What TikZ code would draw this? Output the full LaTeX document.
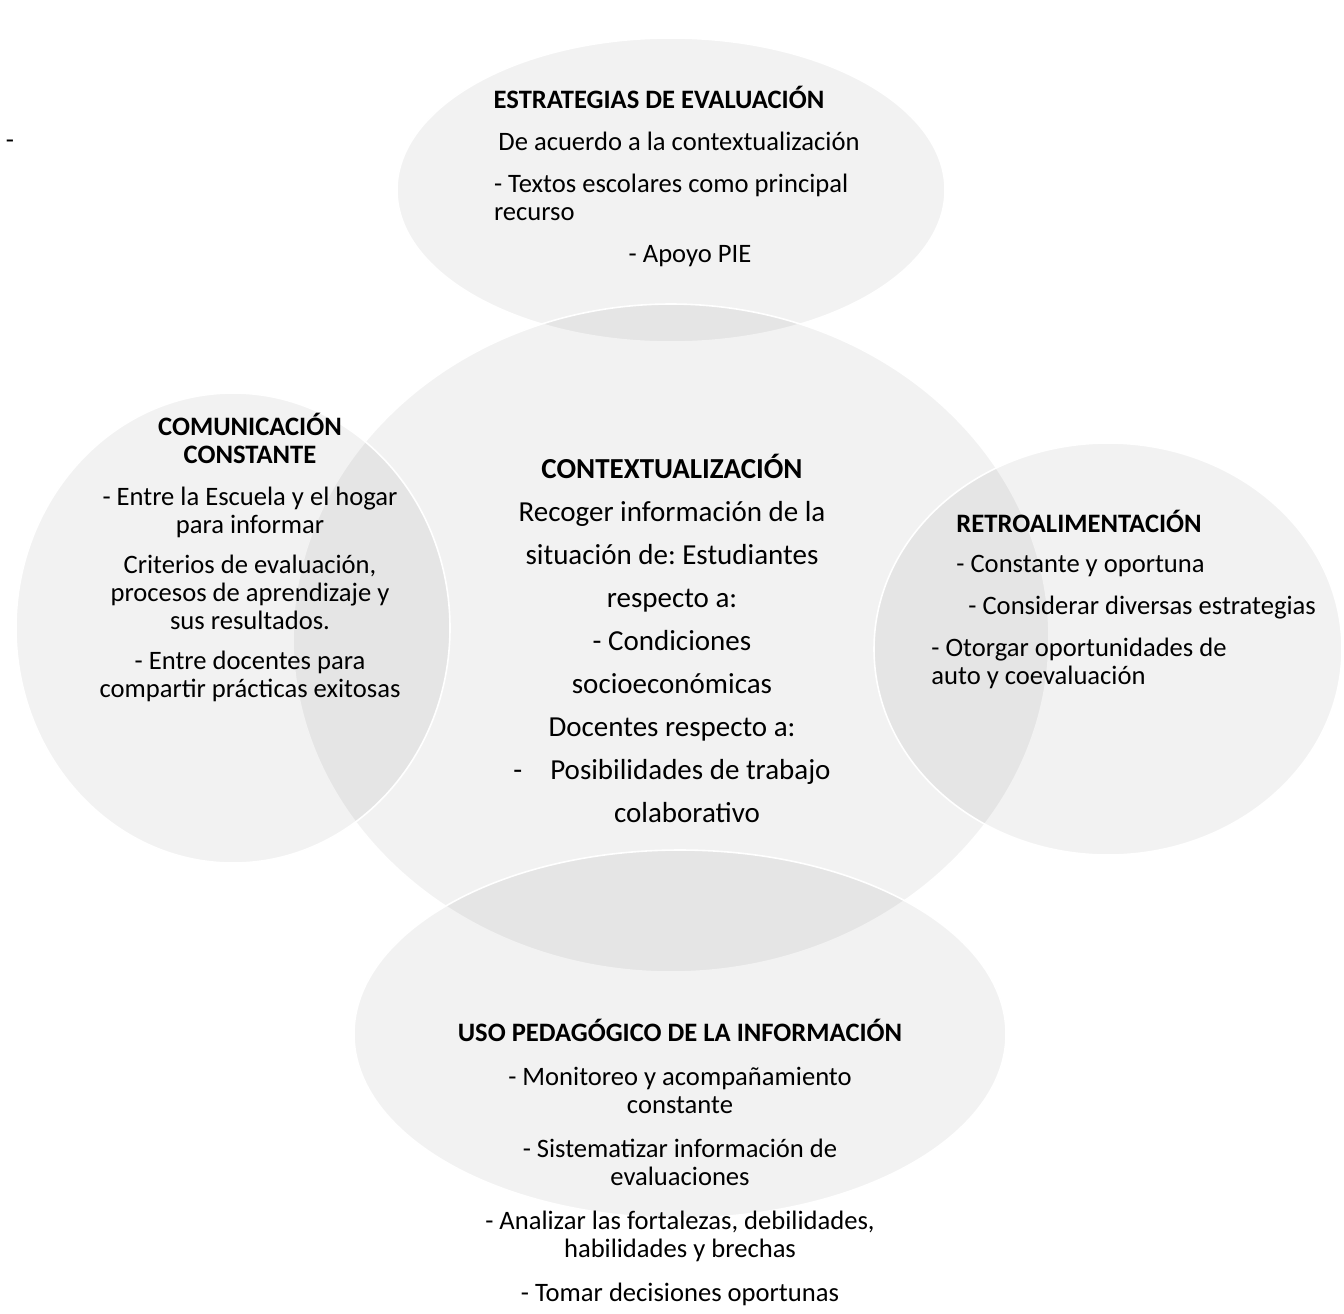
\documentclass[tikz,border=0pt]{standalone}
\usepackage{fontspec}
\setmainfont{Carlito}
\frenchspacing
\usetikzlibrary{positioning}
\tikzset{
  venn/.style={
	x=0.5pt, y=-0.5pt, % one unit is one pixel of the sketch, y goes down
	blob/.style={fill=black, fill opacity=0.05, draw=white, line width=0.8pt}, % the grey discs, darker where they overlap
	txt/.style={font=\fontsize{13.3}{14}\selectfont, align=center, inner sep=0pt}, % the text inside a disc
	big/.style={font=\fontsize{14.5}{21.5}\selectfont}, % the larger text of the middle disc
  }
}

\begin{document}
\begin{tikzpicture}[venn]
\fill[white] (0,0) rectangle (1344,1313);
\useasboundingbox (0,0) rectangle (1344,1313);
% the five discs
\draw[blob] (671,190) ellipse (274 and 152);
\draw[blob] (671,638) ellipse (378 and 334);
\draw[blob] (233,628) ellipse (217 and 235);
\draw[blob] (1108,649) ellipse (234 and 206);
\draw[blob] (680,1034) ellipse (326 and 184);
% the texts
\node[txt] (dash) at (10,144) {-};
\node[txt] (estr) at (672,176) {\textbf{ESTRATEGIAS DE EVALUACIÓN}\hspace*{13pt}\\[7pt]
	\hspace*{7pt}De acuerdo a la contextualización\\[7pt]
	\makebox[178pt][l]{- Textos escolares como principal}\\
	\makebox[178pt][l]{recurso}\\[7pt]
	\hspace*{18pt}- Apoyo PIE};
\node[txt] (comu) at (250,557) {\textbf{COMUNICACIÓN}\\ \textbf{CONSTANTE}\\[7pt]
	- Entre la Escuela y el hogar\\ para informar\\[6pt]
	Criterios de evaluación,\\ procesos de aprendizaje y\\ sus resultados.\\[6pt]
	- Entre docentes para\\ compartir prácticas exitosas};
\node[txt, big] (ctx) at (672,638) {\textbf{CONTEXTUALIZACIÓN}\\ Recoger información de la\\
	situación de: Estudiantes\\ respecto a:\\ - Condiciones\\ socioeconómicas\\
	Docentes respecto a:\\ -\hspace{14pt}Posibilidades de trabajo\\ \hspace*{15pt}colaborativo};
\node[txt, align=left, anchor=north west] (retro) at (931,510) {\hspace*{12.5pt}\textbf{RETROALIMENTACIÓN}\\[6pt]
	\hspace*{12.5pt}- Constante y oportuna\\[7pt]
	\hspace*{18.5pt}- Considerar diversas estrategias\\[7pt]
	- Otorgar oportunidades de\\ auto y coevaluación};
\node[txt] (uso) at (680,1162) {\textbf{USO PEDAGÓGICO DE LA INFORMACIÓN}\\[8pt]
	- Monitoreo y acompañamiento\\ constante\\[8pt]
	- Sistematizar información de\\ evaluaciones\\[8pt]
	- Analizar las fortalezas, debilidades,\\ habilidades y brechas\\[8pt]
	- Tomar decisiones oportunas};
\end{tikzpicture}
\end{document}
